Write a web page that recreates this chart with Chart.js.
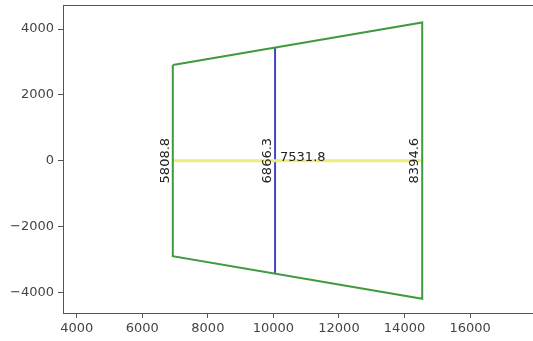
<!DOCTYPE html>
<html>
<head>
<meta charset="utf-8">
<style>
  html, body { margin: 0; padding: 0; background: #fff; overflow: hidden; }
  #wrap { width: 533px; height: 341px; position: relative; }
</style>
<script src="https://cdn.jsdelivr.net/npm/chart.js@4.4.1/dist/chart.umd.min.js"></script>
</head>
<body>
<div id="wrap"><canvas id="chart"></canvas></div>
<script>
// Shape data: x positions of the three vertical sides, their half heights
const sideX = [6930, 10050, 14540];
const halfHeight = [2904.4, 3433.15, 4197.3];
const sideLabels = ['5808.8', '6866.3', '8394.6'];
const widthLabel = '7531.8';
const xTicks = [4000, 6000, 8000, 10000, 12000, 14000, 16000];
const yTicks = [-4000, -2000, 0, 2000, 4000];

const outline = [
    { x: sideX[0], y: halfHeight[0] },
    { x: sideX[2], y: halfHeight[2] },
    { x: sideX[2], y: -halfHeight[2] },
    { x: sideX[0], y: -halfHeight[0] },
    { x: sideX[0], y: halfHeight[0] }
];
const middle = [
    { x: sideX[1], y: halfHeight[1] },
    { x: sideX[1], y: -halfHeight[1] }
];
const across = [
    { x: sideX[0], y: 0 },
    { x: sideX[2], y: 0 }
];

const fmt = v => String(v).replace('-', '\u2212');

// Labels and top border
const labelPlugin = {
    id: 'labels',
    afterDatasetsDraw(chart) {
        const c = chart.ctx;
        const xs = chart.scales.x, ys = chart.scales.y;
        const a = chart.chartArea;
        c.save();
        c.strokeStyle = '#555';
        c.lineWidth = 1;
        c.beginPath();
        c.moveTo(a.left, a.top + 0.5);
        c.lineTo(a.right, a.top + 0.5);
        c.stroke();

        c.fillStyle = '#222';
        c.font = '13px "DejaVu Sans"';
        const y0 = ys.getPixelForValue(0);
        sideX.forEach((x, i) => {
            const px = xs.getPixelForValue(x);
            c.save();
            c.translate(px - 1, y0);
            c.rotate(-Math.PI / 2);
            c.textAlign = 'center';
            c.textBaseline = 'bottom';
            c.fillText(sideLabels[i], 0, 0);
            c.restore();
        });
        c.textAlign = 'left';
        c.textBaseline = 'alphabetic';
        c.fillText(widthLabel, xs.getPixelForValue(sideX[1]) + 5, y0);
        c.restore();
    }
};

new Chart(document.getElementById('chart'), {
    type: 'scatter',
    data: {
        datasets: [
            { data: outline, borderColor: '#3f9b3f', borderWidth: 2, showLine: true, pointRadius: 0 },
            { data: across, borderColor: '#eded7a', borderWidth: 3, showLine: true, pointRadius: 0 },
            { data: middle, borderColor: '#4444c4', borderWidth: 2, showLine: true, pointRadius: 0 }
        ]
    },
    options: {
        responsive: true,
        maintainAspectRatio: false,
        animation: false,
        layout: { padding: { top: 5, left: 0, right: 0, bottom: 0 } },
        plugins: { legend: { display: false }, tooltip: { enabled: false } },
        scales: {
            x: {
                type: 'linear',
                min: 3580,
                max: 17920,
                afterBuildTicks: s => { s.ticks = xTicks.map(v => ({ value: v })); },
                afterFit: s => { s.height = 28; s.paddingLeft = 0; s.paddingRight = 0; },
                grid: { drawOnChartArea: false, color: '#555', tickLength: 5 },
                border: { display: true, color: '#555' },
                ticks: { color: '#444', font: { family: 'DejaVu Sans', size: 13 }, padding: 3, maxRotation: 0, callback: v => fmt(v) }
            },
            y: {
                type: 'linear',
                min: -4629,
                max: 4730,
                afterBuildTicks: s => { s.ticks = yTicks.map(v => ({ value: v })); },
                afterFit: s => { s.width = 63; s.paddingTop = 0; s.paddingBottom = 0; },
                grid: { drawOnChartArea: false, color: '#555', tickLength: 5 },
                border: { display: true, color: '#555' },
                ticks: { color: '#444', font: { family: 'DejaVu Sans', size: 13 }, padding: 4, callback: v => fmt(v) }
            }
        }
    },
    plugins: [labelPlugin]
});
</script>
</body>
</html>
